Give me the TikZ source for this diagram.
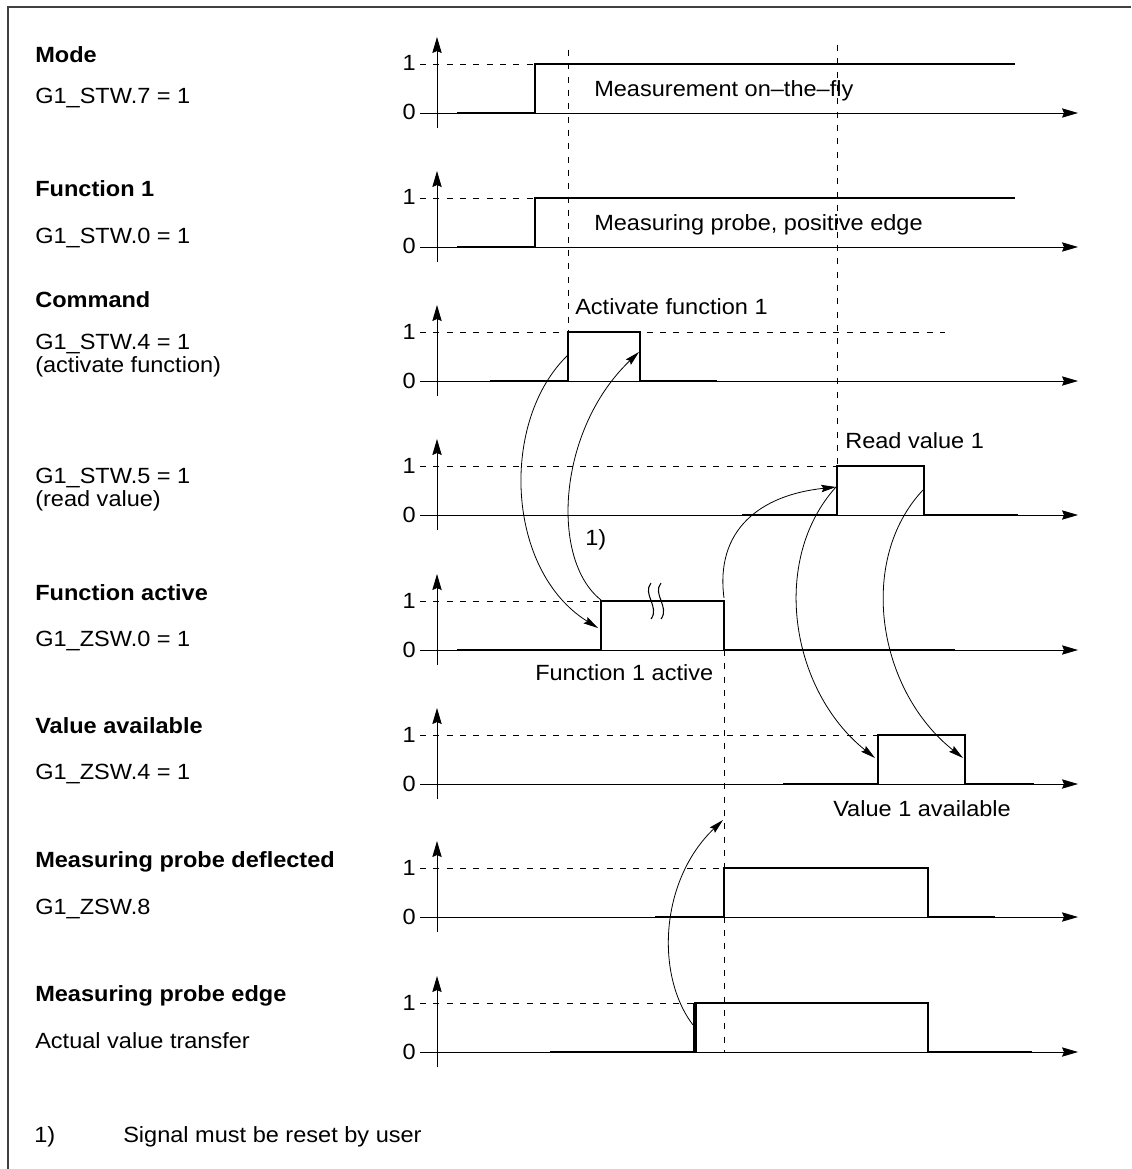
\documentclass[tikz,border=0pt]{standalone}
\usepackage{fontspec}
\setmainfont{Liberation Sans}[FakeStretch=1.07]
\usetikzlibrary{arrows.meta}

\begin{document}
\begin{tikzpicture}[
  x=0.75pt, y=-0.75pt,
  every node/.style={font=\fontsize{16.5}{19}\selectfont, inner sep=0pt},
  lbl/.style={anchor=base west},
  hdr/.style={lbl, font=\fontsize{16.5}{19}\selectfont\bfseries},
  lvl/.style={anchor=base east},
  axisline/.style={line width=0.7pt, -{Stealth[length=12pt, width=7pt, inset=1.5pt]}},
  lvldash/.style={line width=0.7pt, dash pattern=on 4.5pt off 5.5pt},
  tmark/.style={line width=0.7pt, dash pattern=on 4.5pt off 5.5pt},
  sig/.style={line width=2pt, line join=miter},
  flow/.style={line width=0.6pt, -{Stealth[length=11pt, width=5.5pt, inset=1.5pt]}},
]
\useasboundingbox (0,0) rectangle (1131,1169);
% frame
\draw[line width=1.3pt, black!75] (8,1169) -- (8,7) -- (1131,7);

% axes, levels 0/1
\foreach \n/\yz in {mode/113, fone/247, cmd/381, read/515, fact/650, vavl/784, defl/917, edge/1052} {
  \draw[axisline] (437,\yz+15) -- (437,\yz-76);
  \draw[axisline] (420,\yz) -- (1078,\yz);
  \node[lvl] (\n0) at (416,\yz+7) {0};
  \node[lvl] (\n1) at (416,\yz-42) {1};
}
% dashed level 1
\foreach \yz/\xe in {113/535, 247/535, 381/945, 515/837, 650/601, 784/878, 917/724, 1052/695} {
  \draw[lvldash] (420,\yz-49) -- (\xe,\yz-49);
}
% vertical markers
\draw[tmark] (568,50) -- (568,332);
\draw[tmark] (837,45) -- (837,466);
\draw[tmark] (724,650) -- (724,1052);

% signals
\draw[sig] (457,113) -- (535,113) -- (535,64) -- (1015,64);
\draw[sig] (457,247) -- (535,247) -- (535,198) -- (1015,198);
\draw[sig] (490,381) -- (568,381) -- (568,332) -- (640,332) -- (640,381) -- (717,381);
\draw[sig] (742,515) -- (837,515) -- (837,466) -- (924,466) -- (924,515) -- (1018,515);
\draw[sig] (457,650) -- (601,650) -- (601,601) -- (724,601) -- (724,650) -- (955,650);
\draw[sig] (783,784) -- (878,784) -- (878,735) -- (965,735) -- (965,784) -- (1034,784);
\draw[sig] (655,917) -- (724,917) -- (724,868) -- (928,868) -- (928,917) -- (995,917);
\draw[sig] (550,1052) -- (695,1052) -- (695,1003) -- (928,1003) -- (928,1052) -- (1032,1052);
\draw[line width=3pt] (695,1053) -- (695,1003);
% break in function active
\foreach \bx in {651,661} {
  \draw[line width=0.8pt] (\bx,583) .. controls (\bx-9,594) and (\bx+9,607) .. (\bx,619);
}

% left labels
\node[hdr] (modeh) at (35,63) {Mode};
\node[lbl] (modes) at (35,104) {G1\_STW.7 = 1};
\node[hdr] (foneh) at (35,197) {Function 1};
\node[lbl] (fones) at (35,244) {G1\_STW.0 = 1};
\node[hdr] (cmdh) at (35,307) {Command};
\node[lbl] (cmds) at (35,349) {G1\_STW.4 = 1};
\node[lbl] (cmdt) at (35,372) {(activate function)};
\node[lbl] (reads) at (35,483) {G1\_STW.5 = 1};
\node[lbl] (readt) at (35,506) {(read value)};
\node[hdr] (facth) at (35,600) {Function active};
\node[lbl] (facts) at (35,646) {G1\_ZSW.0 = 1};
\node[hdr] (vavlh) at (35,733) {Value available};
\node[lbl] (vavls) at (35,779) {G1\_ZSW.4 = 1};
\node[hdr] (deflh) at (35,867) {Measuring probe deflected};
\node[lbl] (defls) at (35,914) {G1\_ZSW.8};
\node[hdr] (edgeh) at (35,1001) {Measuring probe edge};
\node[lbl] (edges) at (35,1048) {Actual value transfer};
% footnote
\node[lbl] (fnmark) at (34,1142) {1)};
\node[lbl] (fntext) at (123,1142) {Signal must be reset by user};

% signal labels
\node[lbl] (modet) at (594,97) {Measurement on--the--fly};
\node[lbl] (fonet) at (594,231) {Measuring probe, positive edge};
\node[lbl] (cmdl) at (575,314) {Activate function 1};
\node[lbl] (readl) at (845,448) {Read value 1};
\node[lbl] (note) at (585,545) {1)};
\node[lbl] (factl) at (535,680) {Function 1 active};
\node[lbl] (vavll) at (833,816) {Value 1 available};

% edge points
\coordinate (cmdup) at (568,355);
\coordinate (cmddn) at (639,352);
\coordinate (facttop) at (601,600);
\coordinate (factup) at (598,628);
\coordinate (factdn) at (724,598);
\coordinate (readup) at (836,487);
\coordinate (readdn) at (923,490);
\coordinate (vavlup) at (875,758);
\coordinate (vavldn) at (963,758);
\coordinate (edgeup) at (693,1025);
\coordinate (deflin) at (723,820);

% handshake arrows
\draw[flow] (cmdup) .. controls (500,420) and (505,570) .. (factup);
\draw[flow] (facttop) .. controls (550,560) and (557,430) .. (cmddn);
\draw[flow] (factdn) .. controls (715,530) and (760,495) .. (readup);
\draw[flow] (readup) .. controls (770,560) and (790,690) .. (vavlup);
\draw[flow] (readdn) .. controls (857,560) and (877,690) .. (vavldn);
\draw[flow] (edgeup) .. controls (655,975) and (660,880) .. (deflin);
\end{tikzpicture}
\end{document}
